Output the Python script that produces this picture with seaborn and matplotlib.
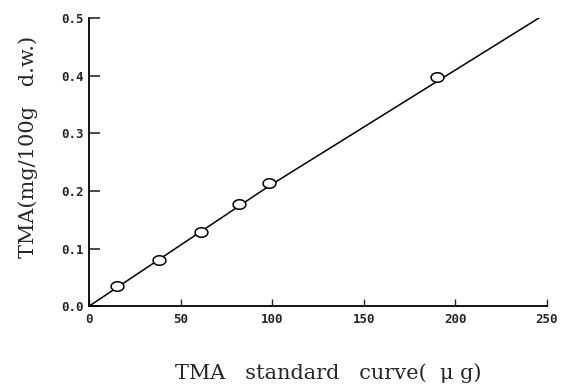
import matplotlib
matplotlib.use("Agg")
import matplotlib.pyplot as plt
from matplotlib.path import Path
import seaborn as sns
import pandas as pd
import numpy as np

# standard curve points
amount_ug = [15, 38, 61, 82, 98, 190]
tma_mg = [0.035, 0.080, 0.128, 0.177, 0.213, 0.398]

# drawn calibration line (vertices)
fit_x = [0, 98, 248]
fit_y = [0.0, 0.208, 0.505]

pts = pd.DataFrame({"x": amount_ug, "y": tma_mg})
fit = pd.DataFrame({"x": fit_x, "y": fit_y})

sns.set_style("ticks")
plt.rcParams['font.family'] = ['DejaVu Sans']

# slightly flattened open circle, like the scanned markers
t = np.linspace(0, 2 * np.pi, 60)
ellipse = Path(np.column_stack([1.35 * np.cos(t), np.sin(t)]), closed=True)

fig = plt.figure(figsize=(5.68, 3.86), dpi=100)
ax = fig.add_axes([0.157, 0.207, 0.806, 0.746])

sns.lineplot(data=fit, x="x", y="y", color="black", linewidth=1.1, sort=False, ax=ax)
sns.scatterplot(data=pts, x="x", y="y", marker=ellipse, s=85, facecolor="white",
                edgecolor="black", linewidth=1.1, zorder=3, ax=ax)

ax.set_xlim(0, 250)
ax.set_ylim(0, 0.5)
ax.set_xticks([0, 50, 100, 150, 200, 250])
ax.set_yticks([0.0, 0.1, 0.2, 0.3, 0.4, 0.5])
ax.set_yticklabels(["0.0", "0.1", "0.2", "0.3", "0.4", "0.5"])
ax.tick_params(axis="y", direction="in", length=8, width=1.2, labelsize=9, pad=4)
ax.tick_params(axis="x", direction="in", length=5, width=1.0, labelsize=9, pad=5)
for lab in ax.get_xticklabels() + ax.get_yticklabels():
    lab.set_family("DejaVu Sans Mono")
    lab.set_fontweight("bold")

sns.despine(ax=ax)
for s in ["left", "bottom"]:
    ax.spines[s].set_linewidth(1.3)
    ax.spines[s].set_color("black")

ax.set_xlabel("TMA   standard   curve(  μ g)", family="DejaVu Serif", fontsize=15, va="center")
ax.set_ylabel("TMA(mg/100g   d.w.)", family="DejaVu Serif", fontsize=15, va="center")
ax.xaxis.set_label_coords(0.522, -0.233)
ax.yaxis.set_label_coords(-0.133, 0.554)

fig.savefig("out.png", dpi=100)
